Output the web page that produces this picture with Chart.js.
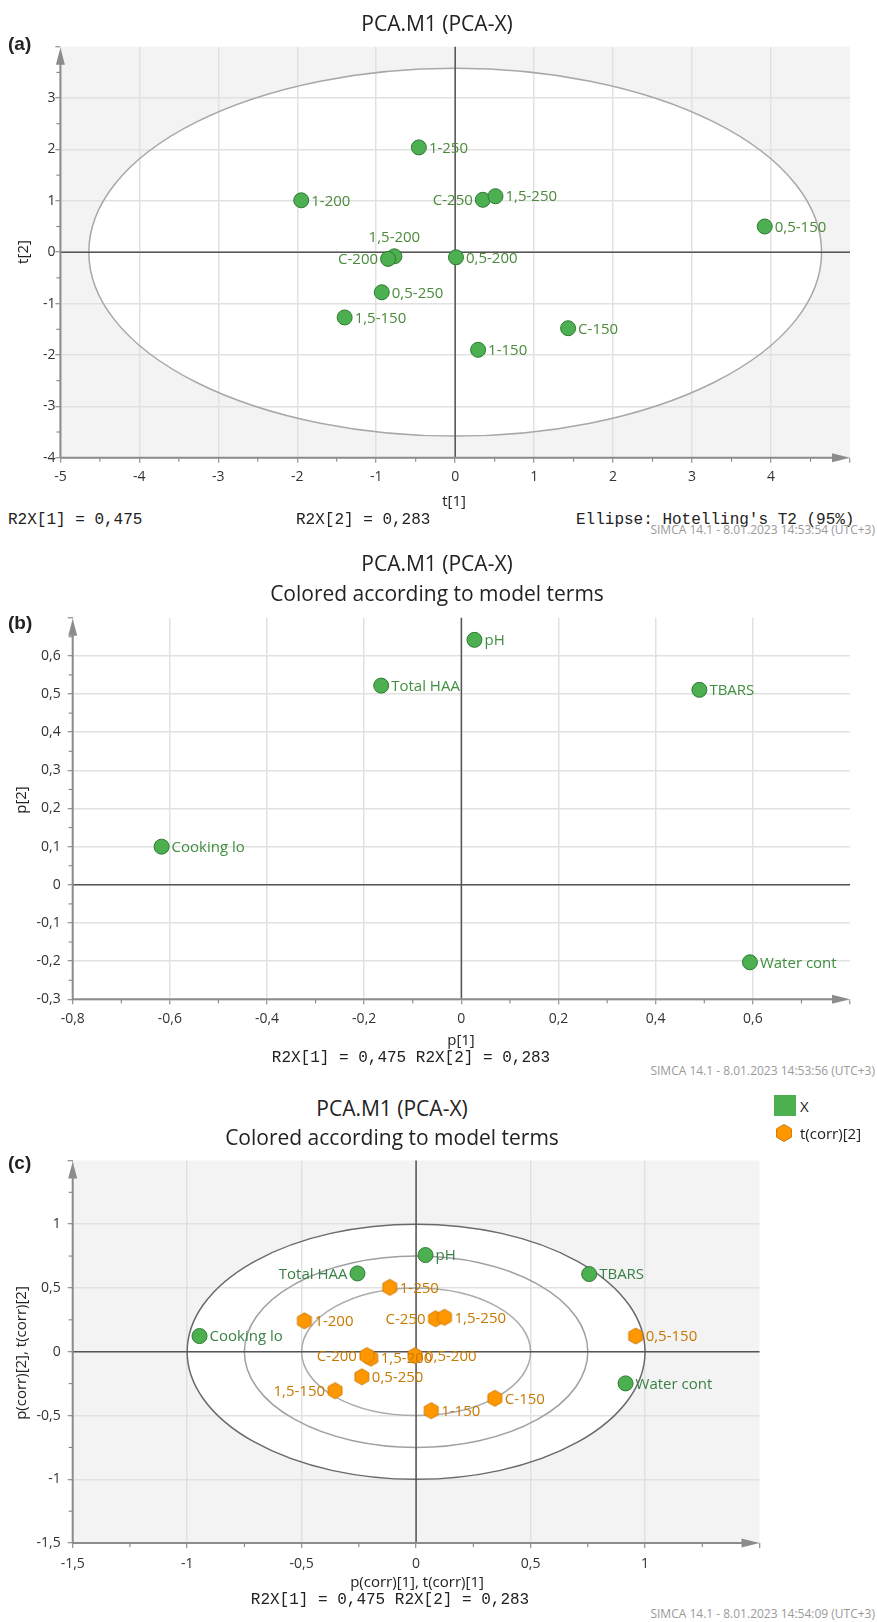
<!DOCTYPE html>
<html lang="en">
<head>
  <meta charset="UTF-8">
  <title>PCA.M1 (PCA-X)</title>
  <script src="https://cdn.jsdelivr.net/npm/chart.js"></script>
  <style>
    body { margin: 0; background: #fff; font-family: "Open Sans", sans-serif; color: #222; }
    #page { position: relative; width: 877px; height: 1622px; overflow: hidden; }
    canvas { position: absolute; left: 0; }
    .t { position: absolute; white-space: nowrap; line-height: 1; }
    .title { font-size: 21px; transform: translate(-50%, -50%); }
    .tag { font-family: "Liberation Sans", Arial, sans-serif; font-weight: bold; font-size: 19px; transform: translateY(-50%); }
    .axt { font-size: 15px; transform: translate(-50%, -50%); }
    .rot { transform: translate(-50%, -50%) rotate(-90deg); }
    .mono { font-family: "Liberation Mono", "DejaVu Sans Mono", monospace; font-size: 16px; transform: translateY(-50%); }
    .monoc { font-family: "Liberation Mono", "DejaVu Sans Mono", monospace; font-size: 16px; transform: translate(-50%, -50%); }
    .stamp { font-size: 12px; color: #9a9a9a; right: 2px; transform: translateY(-50%); }
    .leg { font-size: 15px; transform: translateY(-50%); }
  </style>
</head>
<body>
<div id="page">
  <canvas id="chartA" width="877" height="490" style="top:20px"></canvas>
  <canvas id="chartB" width="877" height="430" style="top:600px"></canvas>
  <canvas id="chartC" width="877" height="430" style="top:1145px"></canvas>

  <!-- (a) -->
  <div class="t title" style="left:437px;top:23px">PCA.M1 (PCA-X)</div>
  <div class="t tag" style="left:8px;top:43px">(a)</div>
  <div class="t axt rot" style="left:22px;top:252px">t[2]</div>
  <div class="t axt" style="left:454px;top:500px">t[1]</div>
  <div class="t mono" style="left:8px;top:520px">R2X[1] = 0,475</div>
  <div class="t mono" style="left:296px;top:520px">R2X[2] = 0,283</div>
  <div class="t mono" style="left:576px;top:520px">Ellipse: Hotelling's T2 (95%)</div>
  <div class="t stamp" style="top:530px">SIMCA 14.1 - 8.01.2023 14:53:54 (UTC+3)</div>

  <!-- (b) -->
  <div class="t title" style="left:437px;top:563px">PCA.M1 (PCA-X)</div>
  <div class="t title" style="left:437px;top:593px">Colored according to model terms</div>
  <div class="t tag" style="left:8px;top:622px">(b)</div>
  <div class="t axt rot" style="left:20px;top:800px">p[2]</div>
  <div class="t axt" style="left:461px;top:1039px">p[1]</div>
  <div class="t monoc" style="left:411px;top:1058px">R2X[1] = 0,475 R2X[2] = 0,283</div>
  <div class="t stamp" style="top:1071px">SIMCA 14.1 - 8.01.2023 14:53:56 (UTC+3)</div>

  <!-- (c) -->
  <div class="t title" style="left:392px;top:1108px">PCA.M1 (PCA-X)</div>
  <div class="t title" style="left:392px;top:1137px">Colored according to model terms</div>
  <div class="t tag" style="left:8px;top:1162px">(c)</div>
  <div style="position:absolute;left:774px;top:1095px;width:22px;height:21px;background:#4caf50"></div>
  <div class="t leg" style="left:800px;top:1106px">X</div>
  <svg style="position:absolute;left:774px;top:1123px" width="20" height="20">
    <polygon points="10,1.5 17.4,5.75 17.4,14.25 10,18.5 2.6,14.25 2.6,5.75" fill="#ff9800" stroke="#cf7a00" stroke-width="1"/>
  </svg>
  <div class="t leg" style="left:800px;top:1133px">t(corr)[2]</div>
  <div class="t axt rot" style="left:20px;top:1353px">p(corr)[2], t(corr)[2]</div>
  <div class="t axt" style="left:417px;top:1581px">p(corr)[1], t(corr)[1]</div>
  <div class="t monoc" style="left:390px;top:1600px">R2X[1] = 0,475 R2X[2] = 0,283</div>
  <div class="t stamp" style="top:1614px">SIMCA 14.1 - 8.01.2023 14:54:09 (UTC+3)</div>
</div>

<script>
  // --- data ---
  const sampleNames = ['1-250', '1-200', 'C-250', '1,5-250', '0,5-150', '1,5-200',
                       'C-200', '0,5-200', '0,5-250', '1,5-150', 'C-150', '1-150'];
  const t1 = [-0.46, -1.95, 0.35, 0.51, 3.92, -0.77, -0.85, 0.01, -0.93, -1.40, 1.43, 0.29];
  const t2 = [2.04, 1.01, 1.02, 1.09, 0.50, -0.08, -0.13, -0.10, -0.78, -1.27, -1.48, -1.90];

  const varNames = ['pH', 'Total HAA', 'TBARS', 'Cooking lo', 'Water cont'];
  const p1 = [0.027, -0.165, 0.49, -0.617, 0.594];
  const p2 = [0.642, 0.522, 0.511, 0.10, -0.203];

  const pCorr1 = [0.041, -0.256, 0.756, -0.946, 0.915];
  const pCorr2 = [0.758, 0.614, 0.609, 0.123, -0.248];
  const tCorr1 = [-0.115, -0.488, 0.085, 0.124, 0.959, -0.198, -0.215, -0.005, -0.237, -0.354, 0.344, 0.066];
  const tCorr2 = [0.505, 0.243, 0.259, 0.27, 0.123, -0.05, -0.03, -0.03, -0.196, -0.305, -0.365, -0.462];

  // Hotelling T2 ellipse semi-axes (t[1], t[2]) and correlation circles
  const t2Ellipse = [4.64, 3.58];
  const corrRadii = [1, 0.75, 0.5];

  // where a label sits if not to the right of its point
  const scoreLabelSide = { '1,5-200': 'top', 'C-200': 'left', 'C-250': 'left' };
  const corrLabelSide = { 'Total HAA': 'left', 'C-250': 'left', 'C-200': 'left', '1,5-150': 'left' };

  const GREEN = '#4caf50', GREEN_EDGE = '#2f7a33';
  const ORANGE = '#ff9800', ORANGE_EDGE = '#cf7a00';

  const toXY = (xs, ys) => xs.map((v, i) => ({ x: v, y: ys[i] }));

  function fmt(v) {
    const r = Math.round(v * 1000) / 1000;
    if (r === 0) return '0';
    return String(r).replace('.', ',');
  }

  // hexagon marker for t(corr)
  function hexMarker(r) {
    const c = document.createElement('canvas');
    const s = Math.ceil(r * 2 + 4);
    c.width = s; c.height = s;
    const g = c.getContext('2d');
    g.beginPath();
    for (let k = 0; k < 6; k++) {
      const a = -Math.PI / 2 + k * Math.PI / 3;
      g.lineTo(s / 2 + r * Math.cos(a), s / 2 + r * Math.sin(a));
    }
    g.closePath();
    g.fillStyle = ORANGE; g.fill();
    g.strokeStyle = ORANGE_EDGE; g.lineWidth = 1; g.stroke();
    return c;
  }

  const plotDecor = {
    id: 'plotDecor',
    beforeDraw(chart, args, o) {
      const { ctx, chartArea: a, scales: { x, y } } = chart;
      if (!o.shade) return;
      const cx = x.getPixelForValue(0), cy = y.getPixelForValue(0);
      ctx.save();
      ctx.fillStyle = '#f3f3f3';
      ctx.fillRect(a.left, a.top, a.right - a.left, a.bottom - a.top);
      ctx.fillStyle = '#fff';
      ctx.beginPath();
      ctx.ellipse(cx, cy, x.getPixelForValue(o.shade[0]) - cx, cy - y.getPixelForValue(o.shade[1]), 0, 0, Math.PI * 2);
      ctx.fill();
      ctx.restore();
    },
    beforeDatasetsDraw(chart, args, o) {
      const { ctx, chartArea: a, scales: { x, y } } = chart;
      const cx = x.getPixelForValue(0), cy = y.getPixelForValue(0);
      ctx.save();
      (o.rings || []).forEach(r => {
        ctx.beginPath();
        ctx.strokeStyle = r.color;
        ctx.lineWidth = 1.5;
        ctx.ellipse(cx, cy, x.getPixelForValue(r.rx) - cx, cy - y.getPixelForValue(r.ry), 0, 0, Math.PI * 2);
        ctx.stroke();
      });
      // zero lines
      ctx.strokeStyle = '#555';
      ctx.lineWidth = 1.5;
      ctx.beginPath();
      ctx.moveTo(cx, a.top); ctx.lineTo(cx, a.bottom);
      ctx.moveTo(a.left, cy); ctx.lineTo(a.right, cy);
      ctx.stroke();
      // minor ticks
      ctx.strokeStyle = '#777';
      ctx.lineWidth = 1;
      ctx.beginPath();
      const mx = o.stepX / 2, my = o.stepY / 2;
      for (let i = 1; x.min + i * mx < x.max; i += 2) {
        const px = x.getPixelForValue(x.min + i * mx);
        ctx.moveTo(px, a.bottom); ctx.lineTo(px, a.bottom + 4);
      }
      for (let i = 1; y.min + i * my < y.max; i += 2) {
        const py = y.getPixelForValue(y.min + i * my);
        ctx.moveTo(a.left - 4, py); ctx.lineTo(a.left, py);
      }
      ctx.stroke();
      // axes with arrow heads
      ctx.strokeStyle = '#8c8c8c';
      ctx.fillStyle = '#8c8c8c';
      ctx.lineWidth = 2;
      ctx.beginPath();
      ctx.moveTo(a.left, a.bottom); ctx.lineTo(a.left, a.top + 10);
      ctx.moveTo(a.left, a.bottom); ctx.lineTo(a.right - 10, a.bottom);
      ctx.stroke();
      ctx.beginPath();
      ctx.moveTo(a.left, a.top + 1); ctx.lineTo(a.left - 4.5, a.top + 18); ctx.lineTo(a.left + 4.5, a.top + 18);
      ctx.closePath(); ctx.fill();
      ctx.beginPath();
      ctx.moveTo(a.right, a.bottom); ctx.lineTo(a.right - 18, a.bottom - 4.5); ctx.lineTo(a.right - 18, a.bottom + 4.5);
      ctx.closePath(); ctx.fill();
      ctx.restore();
    }
  };

  const pointLabels = {
    id: 'pointLabels',
    afterDatasetsDraw(chart) {
      const ctx = chart.ctx;
      chart.data.datasets.forEach((ds, di) => {
        if (!ds.names) return;
        const meta = chart.getDatasetMeta(di);
        ctx.save();
        ctx.font = '15px "Open Sans"';
        ctx.fillStyle = ds.labelColor;
        ctx.textBaseline = 'middle';
        meta.data.forEach((pt, i) => {
          const name = ds.names[i];
          const side = (ds.sides || {})[name] || 'right';
          let px = pt.x, py = pt.y + 1;
          if (side === 'left') { ctx.textAlign = 'right'; px -= 10; }
          else if (side === 'top') { ctx.textAlign = 'center'; py -= 20; }
          else { ctx.textAlign = 'left'; px += 10; }
          ctx.fillText(name, px, py);
        });
        ctx.restore();
      });
    }
  };

  function makeAxis(ax, horizontal) {
    return {
      type: 'linear',
      min: ax.min,
      max: ax.max,
      ticks: {
        stepSize: ax.step,
        autoSkip: false,
        maxRotation: 0,
        padding: ax.pad,
        color: '#333',
        font: { family: 'Open Sans', size: 14 },
        callback: v => Math.abs(v - ax.max) < 1e-9 ? '' : fmt(v)
      },
      grid: {
        color: c => (c.tick && Math.abs(c.tick.value - ax.max) < 1e-9) ? 'rgba(0,0,0,0)' : '#e1e1e1',
        lineWidth: 1.5,
        drawTicks: true,
        tickLength: 5,
        tickColor: '#777',
        tickWidth: 1
      },
      border: { display: false },
      afterFit: s => { if (horizontal) s.height = ax.size; else s.width = ax.size; }
    };
  }

  function buildPanel(id, cfg) {
    return new Chart(document.getElementById(id), {
      type: 'scatter',
      data: { datasets: cfg.datasets },
      options: {
        responsive: false,
        animation: false,
        devicePixelRatio: 1,
        events: [],
        layout: { padding: cfg.padding },
        plugins: {
          legend: { display: false },
          tooltip: { enabled: false },
          plotDecor: cfg.decor
        },
        scales: {
          x: makeAxis(cfg.x, true),
          y: makeAxis(cfg.y, false)
        }
      },
      plugins: [plotDecor, pointLabels]
    });
  }

  const greenPoint = {
    pointRadius: 7.5,
    backgroundColor: GREEN,
    borderColor: GREEN_EDGE,
    borderWidth: 1
  };

  // (a) score plot
  buildPanel('chartA', {
    padding: { left: 0, right: 27, top: 26.7, bottom: 22.3 },
    x: { min: -5, max: 5, step: 1, size: 30, pad: 6 },
    y: { min: -4, max: 4, step: 1, size: 60.4, pad: 0 },
    decor: {
      shade: t2Ellipse,
      rings: [{ rx: t2Ellipse[0], ry: t2Ellipse[1], color: '#a8a8a8' }],
      stepX: 1, stepY: 1
    },
    datasets: [Object.assign({
      data: toXY(t1, t2),
      names: sampleNames,
      sides: scoreLabelSide,
      labelColor: '#4a8a3a'
    }, greenPoint)]
  });

  // (b) loading plot
  buildPanel('chartB', {
    padding: { left: 0, right: 27, top: 17.7, bottom: 4.7 },
    x: { min: -0.8, max: 0.8, step: 0.2, size: 26, pad: 6 },
    y: { min: -0.3, max: 0.7, step: 0.1, size: 72.7, pad: 7 },
    decor: { stepX: 0.2, stepY: 0.1 },
    datasets: [Object.assign({
      data: toXY(p1, p2),
      names: varNames,
      labelColor: '#3f8f3f'
    }, greenPoint)]
  });

  // (c) correlation bi-plot
  buildPanel('chartC', {
    padding: { left: 0, right: 117.5, top: 15.3, bottom: 3.9 },
    x: { min: -1.5, max: 1.5, step: 0.5, size: 28, pad: 8 },
    y: { min: -1.5, max: 1.5, step: 0.5, size: 72.7, pad: 7 },
    decor: {
      shade: [1, 1],
      rings: [
        { rx: corrRadii[0], ry: corrRadii[0], color: '#6a6a6a' },
        { rx: corrRadii[1], ry: corrRadii[1], color: '#a0a0a0' },
        { rx: corrRadii[2], ry: corrRadii[2], color: '#ababab' }
      ],
      stepX: 0.5, stepY: 0.5
    },
    datasets: [
      {
        data: toXY(tCorr1, tCorr2),
        names: sampleNames,
        sides: corrLabelSide,
        labelColor: '#c77800',
        pointStyle: hexMarker(8),
        pointRadius: 8
      },
      Object.assign({
        data: toXY(pCorr1, pCorr2),
        names: varNames,
        sides: corrLabelSide,
        labelColor: '#3a8046'
      }, greenPoint)
    ]
  });
</script>
</body>
</html>
